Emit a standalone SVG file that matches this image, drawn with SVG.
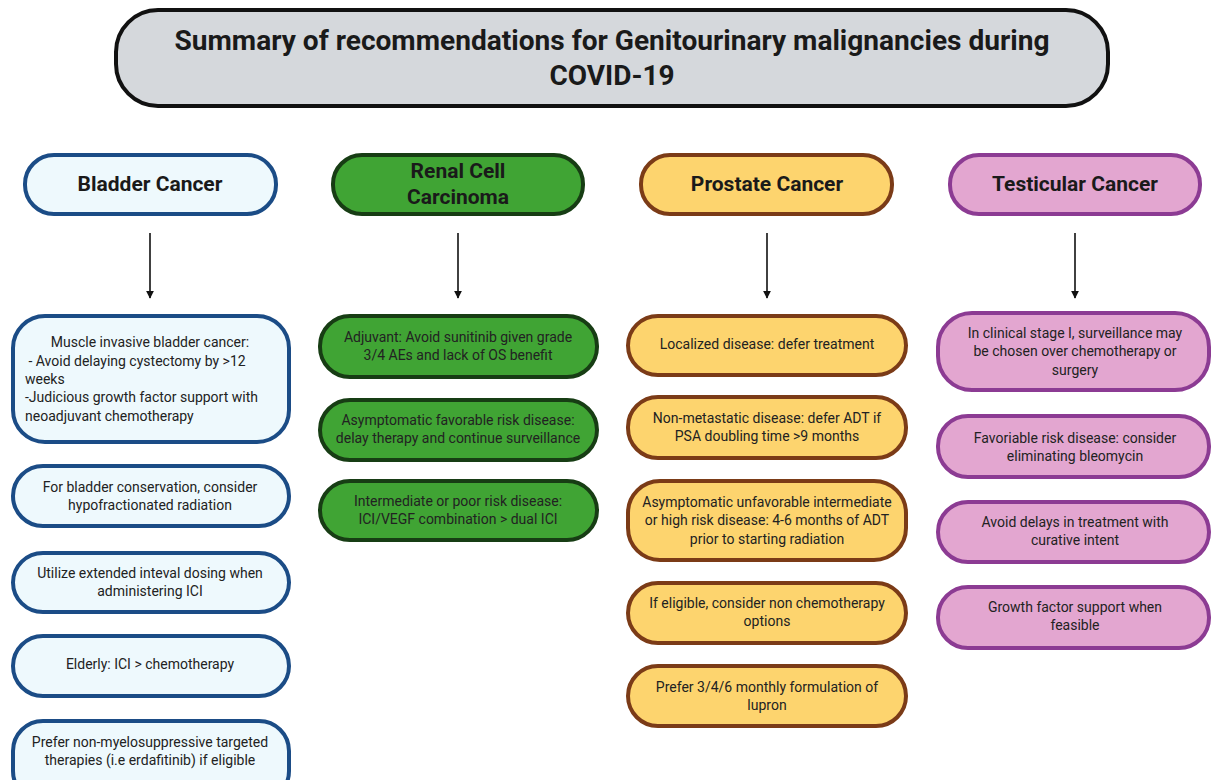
<svg xmlns="http://www.w3.org/2000/svg" width="1212" height="780" viewBox="0 0 1212 780">
<style>
.t{font-family:Roboto,"Liberation Sans",sans-serif;font-size:14px;fill:#222;text-anchor:middle}
.tl{font-family:Roboto,"Liberation Sans",sans-serif;font-size:14px;fill:#222}
.h{font-family:Roboto,"Liberation Sans",sans-serif;font-size:21px;font-weight:bold;fill:#1a1a1a;text-anchor:middle}
.title{font-family:Roboto,"Liberation Sans",sans-serif;font-size:28px;font-weight:bold;fill:#1a1a1a;text-anchor:middle}
.bl{fill:#eef9fd;stroke:#1b4c86;stroke-width:4}
.rc{fill:#40a434;stroke:#173d14;stroke-width:4}
.pc{fill:#fdd46e;stroke:#7b3b17;stroke-width:4}
.tc{fill:#e3a6d0;stroke:#8c3b93;stroke-width:4}
.arr{stroke:#111;stroke-width:1.6;fill:none;marker-end:url(#ah)}
</style>
<defs>
<marker id="ah" viewBox="0 0 10 10" refX="9" refY="5" markerWidth="8" markerHeight="8" markerUnits="userSpaceOnUse" orient="auto">
<path d="M0,0 L10,5 L0,10 z" fill="#111"/>
</marker>
</defs>
<rect width="1212" height="780" fill="#fff"/>
<g id="title">
<rect x="116" y="10" width="992" height="96" rx="42" fill="#d5d8dc" stroke="#111" stroke-width="4"/>
<text class="title" x="612" y="50" textLength="875" lengthAdjust="spacingAndGlyphs">Summary of recommendations for Genitourinary malignancies during</text>
<text class="title" x="612" y="85">COVID-19</text>
</g>
<g id="connectors">
<line class="arr" x1="150" y1="233" x2="150" y2="298"/>
<line class="arr" x1="458" y1="233" x2="458" y2="298"/>
<line class="arr" x1="767" y1="233" x2="767" y2="298"/>
<line class="arr" x1="1075" y1="233" x2="1075" y2="298"/>
</g>
<g id="bladder-header"><rect class="bl" x="25" y="155" width="251" height="59" rx="29"/><text class="h" x="150" y="191">Bladder Cancer</text></g>
<g id="renal-header"><rect class="rc" x="333" y="155" width="250" height="59" rx="29"/><text class="h" x="458" y="178">Renal Cell</text><text class="h" x="458" y="204">Carcinoma</text></g>
<g id="prostate-header"><rect class="pc" x="641" y="155" width="251" height="59" rx="29"/><text class="h" x="767" y="191">Prostate Cancer</text></g>
<g id="testicular-header"><rect class="tc" x="950" y="155" width="250" height="59" rx="29"/><text class="h" x="1075" y="191">Testicular Cancer</text></g>

<g id="bl1"><rect class="bl" x="13" y="316" width="276" height="126" rx="32"/>
<text class="t" x="150" y="347">Muscle invasive bladder cancer:</text>
<text class="tl" x="25" y="366" xml:space="preserve"> - Avoid delaying cystectomy by &gt;12</text>
<text class="tl" x="25" y="384">weeks</text>
<text class="tl" x="25" y="402">-Judicious growth factor support with</text>
<text class="tl" x="25" y="421">neoadjuvant chemotherapy</text></g>
<g id="bl2"><rect class="bl" x="13" y="466" width="276" height="60" rx="30"/>
<text class="t" x="150" y="492">For bladder conservation, consider</text><text class="t" x="150" y="510">hypofractionated radiation</text></g>
<g id="bl3"><rect class="bl" x="13" y="553" width="276" height="59" rx="30"/>
<text class="t" x="150" y="578">Utilize extended inteval dosing when</text><text class="t" x="150" y="596">administering ICI</text></g>
<g id="bl4"><rect class="bl" x="13" y="636" width="276" height="60" rx="30"/>
<text class="t" x="150" y="669">Elderly: ICI &gt; chemotherapy</text></g>
<g id="bl5"><rect class="bl" x="13" y="721" width="276" height="80" rx="30"/>
<text class="t" x="150" y="747">Prefer non-myelosuppressive targeted</text><text class="t" x="150" y="765">therapies (i.e erdafitinib) if eligible</text></g>

<g id="rc1"><rect class="rc" x="320" y="316" width="277" height="61" rx="30"/>
<text class="t" x="458" y="342">Adjuvant: Avoid sunitinib given grade</text><text class="t" x="458" y="360">3/4 AEs and lack of OS benefit</text></g>
<g id="rc2"><rect class="rc" x="320" y="400" width="277" height="60" rx="30"/>
<text class="t" x="458" y="425">Asymptomatic favorable risk disease:</text><text class="t" x="458" y="443">delay therapy and continue surveillance</text></g>
<g id="rc3"><rect class="rc" x="320" y="481" width="277" height="59" rx="30"/>
<text class="t" x="458" y="506">Intermediate or poor risk disease:</text><text class="t" x="458" y="524">ICI/VEGF combination &gt; dual ICI</text></g>

<g id="pc1"><rect class="pc" x="628" y="316" width="278" height="59" rx="30"/>
<text class="t" x="767" y="349">Localized disease: defer treatment</text></g>
<g id="pc2"><rect class="pc" x="628" y="397" width="278" height="61" rx="30"/>
<text class="t" x="767" y="423">Non-metastatic disease: defer ADT if</text><text class="t" x="767" y="441">PSA doubling time &gt;9 months</text></g>
<g id="pc3"><rect class="pc" x="628" y="481" width="278" height="79" rx="32"/>
<text class="t" x="767" y="507">Asymptomatic unfavorable intermediate</text><text class="t" x="767" y="525">or high risk disease: 4-6 months of ADT</text><text class="t" x="767" y="544">prior to starting radiation</text></g>
<g id="pc4"><rect class="pc" x="628" y="583" width="278" height="60" rx="30"/>
<text class="t" x="767" y="608">If eligible, consider non chemotherapy</text><text class="t" x="767" y="626">options</text></g>
<g id="pc5"><rect class="pc" x="628" y="666" width="278" height="60" rx="30"/>
<text class="t" x="767" y="692">Prefer 3/4/6 monthly formulation of</text><text class="t" x="767" y="710">lupron</text></g>

<g id="tc1"><rect class="tc" x="938" y="313" width="271" height="77" rx="34"/>
<text class="t" x="1075" y="338">In clinical stage I, surveillance may</text><text class="t" x="1075" y="356">be chosen over chemotherapy or</text><text class="t" x="1075" y="375">surgery</text></g>
<g id="tc2"><rect class="tc" x="938" y="416" width="271" height="61" rx="30"/>
<text class="t" x="1075" y="443">Favoriable risk disease: consider</text><text class="t" x="1075" y="461">eliminating bleomycin</text></g>
<g id="tc3"><rect class="tc" x="938" y="502" width="271" height="60" rx="30"/>
<text class="t" x="1075" y="527">Avoid delays in treatment with</text><text class="t" x="1075" y="545">curative intent</text></g>
<g id="tc4"><rect class="tc" x="938" y="587" width="271" height="61" rx="30"/>
<text class="t" x="1075" y="612">Growth factor support when</text><text class="t" x="1075" y="630">feasible</text></g>
</svg>
